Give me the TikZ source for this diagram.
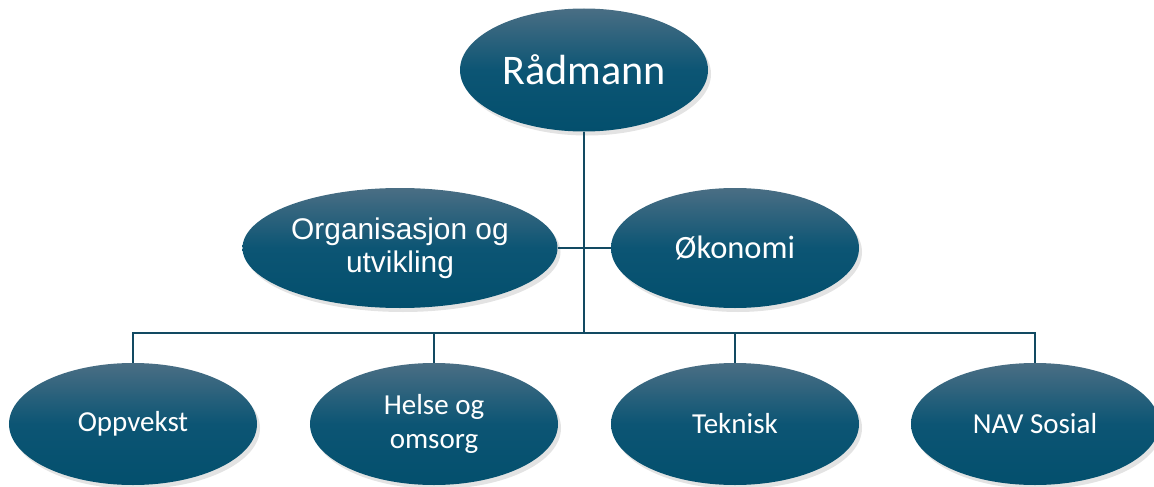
\documentclass[tikz,border=0pt]{standalone}
\usepackage{fontspec}
\setmainfont{Carlito}
\newfontfamily\arialfont{Liberation Sans}
\usetikzlibrary{shapes.geometric,shadows}
\definecolor{unitTop}{HTML}{4A6E84}
\definecolor{unitMid}{HTML}{0C5574}
\definecolor{unitBot}{HTML}{034F6D}
\definecolor{connCol}{HTML}{124A62}
\tikzset{
  unit/.style={ellipse, inner sep=0pt, minimum width=49.6mm, minimum height=24.4mm,
    top color=unitTop, bottom color=unitBot, middle color=unitMid,
    text=white, align=center,
    drop shadow={opacity=0.22, shadow xshift=0.6mm, shadow yshift=-0.8mm}},
  conn/.style={draw=connCol, line width=1.4pt}
}

\begin{document}
\begin{tikzpicture}[x=0.2mm, y=-0.2mm]
		%%%%% START %%%%%
		\useasboundingbox (0,0) rectangle (1154,487);
		
		\node[unit, minimum height=24.6mm, font=\fontsize{24}{28}\selectfont] (rad) at (584,70) {Rådmann};
		
		\node[unit, minimum width=63mm, minimum height=24mm, font=\arialfont\fontsize{17}{19}\selectfont] (org) at (400,248) {Organisasjon og\\utvikling};
		\node[unit, minimum height=24mm, font=\fontsize{18.5}{22}\selectfont] (oko) at (735,248) {Økonomi};
		
		\node[unit, font=\fontsize{16.5}{19.5}\selectfont] (opp) at (133,424) {Oppvekst};
		\node[unit, font=\fontsize{16.5}{19.5}\selectfont] (hel) at (434,424) {Helse og\\omsorg};
		\node[unit, font=\fontsize{16.5}{19.5}\selectfont] (tek) at (735,424) {Teknisk};
		\node[unit, font=\fontsize{16.5}{19.5}\selectfont] (nav) at (1035,424) {NAV Sosial};
		
		\coordinate (bus) at (584,333);
		
		\draw[conn] (rad.south) -- (bus);
		\draw[conn] (org.east) -- (oko.west);
		\draw[conn] (opp.north) |- (bus) -| (nav.north);
		\draw[conn] (hel.north) -- (hel.north |- bus);
		\draw[conn] (tek.north) -- (tek.north |- bus);
		
		%%%%% END %%%%%
	\end{tikzpicture}
\end{document}
